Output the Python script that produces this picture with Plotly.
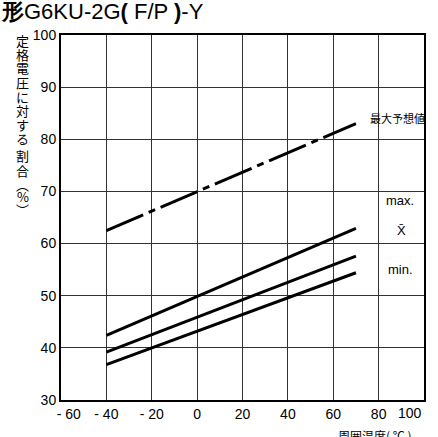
import plotly.graph_objects as go

# ---- data ----
temps = [-40, 70]
max_expected = [62.5, 83.0]
max_vals = [42.4, 62.9]
mean_vals = [39.2, 57.6]
min_vals = [36.8, 54.4]

NB = "\u00a0"
x_tickvals = [-60, -40, -20, 0, 20, 40, 60, 80, 100]
x_ticktext = [NB * 4 + "- 60", "- 40", "- 20", "0", "20", "40", "60", "80", ""]
x_last_label = "100"
y_tickvals = [30, 40, 50, 60, 70, 80, 90, 100]

title_text = "<b>形</b>G6KU-2G<b>(</b> F/P <b>)</b>-Y"
ylabel_chars = ["定", "格", "電", "圧", "に", "対", "す", "る", "割", "合", "︵", "%", "︶"]
xlabel_text = "周囲温度( ℃ )"

# ---- layout geometry (pixels) ----
W, H = 438, 437
L, R, T, B = 61, 14, 35, 37
PW, PH = W - L - R, H - T - B

def px(x):
    return (x - L) / PW

def py(y):
    return (H - B - y) / PH

FONT = "Liberation Sans, Arial, sans-serif"
CJK = "Noto Sans CJK JP, sans-serif"

fig = go.Figure()
line = dict(color="black", width=3)
fig.add_trace(go.Scatter(x=temps, y=max_expected, mode="lines",
                         line=dict(color="black", width=3, dash="40px,6px,7px,6px")))
fig.add_trace(go.Scatter(x=temps, y=max_vals, mode="lines", line=line))
fig.add_trace(go.Scatter(x=temps, y=mean_vals, mode="lines", line=line))
fig.add_trace(go.Scatter(x=temps, y=min_vals, mode="lines", line=line))

annotations = []
annotations.append(dict(text=title_text, x=px(-1), y=py(11), xref="paper", yref="paper",
                        xanchor="left", yanchor="middle", showarrow=False,
                        font=dict(family=FONT, size=22, color="black")))
ycenters = [40, 54, 68, 82, 96, 110, 124, 138, 155, 170, 184, 196, 209]
for ch, yc in zip(ylabel_chars, ycenters):
    annotations.append(dict(text=ch, x=px(22.5), y=py(yc), xref="paper", yref="paper",
                            xanchor="center", yanchor="middle", showarrow=False,
                            font=dict(family=CJK, size=13, color="black")))
annotations.append(dict(text=xlabel_text, x=px(336), y=py(425), xref="paper", yref="paper",
                        xanchor="left", yanchor="top", showarrow=False,
                        font=dict(family=CJK, size=12, color="black")))
# last x tick label, kept inside the frame as in the reference
annotations.append(dict(text=x_last_label, x=x_tickvals[-1], y=y_tickvals[0], xref="x", yref="y",
                        xanchor="right", yanchor="middle", yshift=-13, showarrow=False,
                        font=dict(family=FONT, size=14, color="black")))
# in-plot labels
for txt, xv, yv in [("最大予想値", 88.5, 84.0), ("max.", 89.5, 68.3), ("X̄", 90, 62.6), ("min.", 89.5, 55.0)]:
    annotations.append(dict(text=txt, x=xv, y=yv, xref="x", yref="y", showarrow=False,
                            xanchor="center", yanchor="middle",
                            font=dict(family=CJK if txt == "最大予想値" else FONT,
                                      size=11 if txt == "最大予想値" else 13, color="black")))

fig.update_layout(
    width=W, height=H, autosize=False,
    margin=dict(l=L, r=R, t=T, b=B, pad=0, autoexpand=False),
    paper_bgcolor="white", plot_bgcolor="white",
    showlegend=False,
    annotations=annotations,
    font=dict(family=FONT, size=14, color="black"),
)
fig.update_xaxes(range=[-60, 100], tickvals=x_tickvals, ticktext=x_ticktext,
                 showgrid=True, gridcolor="#333", gridwidth=1,
                 showline=True, linecolor="black", linewidth=2, mirror=True,
                 zeroline=False, ticks="", automargin=False,
                 tickfont=dict(size=14, color="black"))
fig.update_yaxes(range=[30, 100], tickvals=y_tickvals,
                 showgrid=True, gridcolor="#333", gridwidth=1,
                 showline=True, linecolor="black", linewidth=2, mirror=True,
                 zeroline=False, ticks="", automargin=False,
                 tickfont=dict(size=14, color="black"))

fig.write_html("out.html",
               config={"displayModeBar": False, "responsive": False},
               post_script="document.body.style.margin='0';document.body.style.overflow='hidden';")
